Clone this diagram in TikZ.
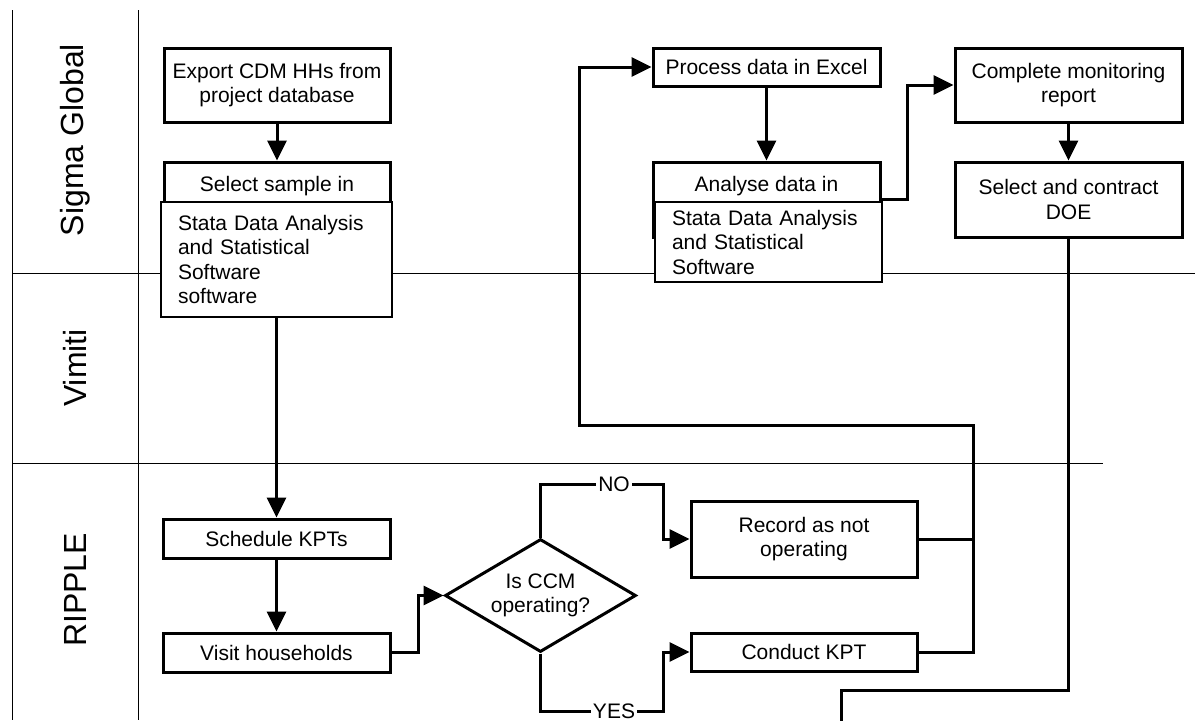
\documentclass[tikz,border=0pt]{standalone}
\usepackage{fontspec}
\setmainfont{Liberation Sans}
\usetikzlibrary{arrows.meta,shapes.geometric}
\begin{document}
\begin{tikzpicture}[x=0.5pt,y=-0.5pt,
  every node/.style={font=\fontsize{10.5}{12.25}\selectfont},
  tbox/.style={draw,line width=1.5pt,fill=white,rectangle,inner sep=0pt,align=center},
  obox/.style={draw,line width=0.6pt,fill=white,rectangle,inner ysep=0pt,inner xsep=8.5pt,align=left},
  lane/.style={line width=0.5pt},
  conn/.style={line width=1.5pt,line join=miter},
  arr/.style={conn,-{Triangle[length=10pt,width=9.5pt]}},
  lbl/.style={fill=white,inner sep=1pt},
  lanelbl/.style={rotate=90,font=\fontsize{16}{19}\selectfont}
]
\useasboundingbox (0,0) rectangle (1195,720);
% swimlane lines
\draw[lane] (12,10) -- (12,720);
\draw[lane] (138,10) -- (138,720);
\draw[lane] (12,273) -- (1195,273);
\draw[lane] (12,463) -- (1103,463);
% lane labels
\node[lanelbl] (lsig) at (75,140) {Sigma Global};
\node[lanelbl] (lvim) at (75,368) {Vimiti};
\node[lanelbl] (lrip) at (75,590) {RIPPLE};
% Sigma Global
\node[tbox,minimum width=113pt,minimum height=37pt] (export) at (277,85) {Export CDM HHs from\\project database};
\node[tbox,minimum width=113pt,minimum height=39pt] (select) at (277,201) {};
\node (selecttxt) at (277,186) {Select sample in};
\node[obox,text width=98.5pt,minimum height=57.5pt] (ov1) at (276.5,259.5) {Stata Data Analysis\\and Statistical\\Software\\software};
\node[tbox,minimum width=113.5pt,minimum height=19pt] (process) at (766.5,67) {Process data in Excel};
\node[tbox,minimum width=113.5pt,minimum height=37.5pt] (analyse) at (766.5,199.5) {};
\node (analysetxt) at (766.5,186) {Analyse data in};
\node[obox,text width=96.5pt,minimum height=40pt] (ov2) at (768.5,242) {Stata Data Analysis\\and Statistical\\Software};
\node[tbox,minimum width=113.5pt,minimum height=37pt] (complete) at (1068.5,85) {Complete monitoring\\report};
\node[tbox,minimum width=113.5pt,minimum height=37.5pt] (doe) at (1068.5,199.5) {Select and contract\\DOE};
% RIPPLE
\node[tbox,minimum width=113.5pt,minimum height=19.5pt] (schedule) at (276.5,538.5) {Schedule KPTs};
\node[tbox,minimum width=113.5pt,minimum height=19.5pt] (visit) at (276.5,652.5) {Visit households};
\node[tbox,diamond,aspect=1.69,minimum width=95.5pt,minimum height=56.5pt] (dia) at (540.5,595.5) {Is CCM\\operating?};
\node[tbox,minimum width=113pt,minimum height=38pt] (record) at (804,539) {Record as not\\operating};
\node[tbox,minimum width=113pt,minimum height=19pt] (conduct) at (804,652) {Conduct KPT};
% helper coordinates
\coordinate (noL) at (540.5,484);
\coordinate (noR) at (663,484);
\coordinate (yesL) at (540.5,711);
\coordinate (yesR) at (663,711);
\coordinate (vh) at (418,652.5);
\coordinate (lpR) at (973,425);
\coordinate (lpL) at (579,425);
\coordinate (ac) at (907,199.5);
\coordinate (dA) at (1068.5,690);
\coordinate (dB) at (841,690);
\coordinate (dEnd) at (841,722);
% connectors
\draw[arr] (export.south) -- (select.north);
\draw[arr] (ov1.south) -- (schedule.north);
\draw[arr] (schedule.south) -- (visit.north);
\draw[arr] (visit.east) -- (vh) |- (dia.west);
\draw[arr] (dia.north) -- (noL) -- node[lbl,pos=0.6]{NO} (noR) |- (record.west);
\draw[arr] (dia.south) -- (yesL) -- node[lbl,pos=0.6]{YES} (yesR) |- (conduct.west);
\draw[conn] (record.east) -- (record.east -| lpR);
\draw[arr] (conduct.east) -| (lpR) -- (lpL) |- (process.west);
\draw[arr] (process.south) -- (analyse.north);
\draw[arr] (analyse.east) -- (ac) |- (complete.west);
\draw[arr] (complete.south) -- (doe.north);
\draw[conn] (doe.south) -- (dA) -- (dB) -- (dEnd);
\end{tikzpicture}
\end{document}
